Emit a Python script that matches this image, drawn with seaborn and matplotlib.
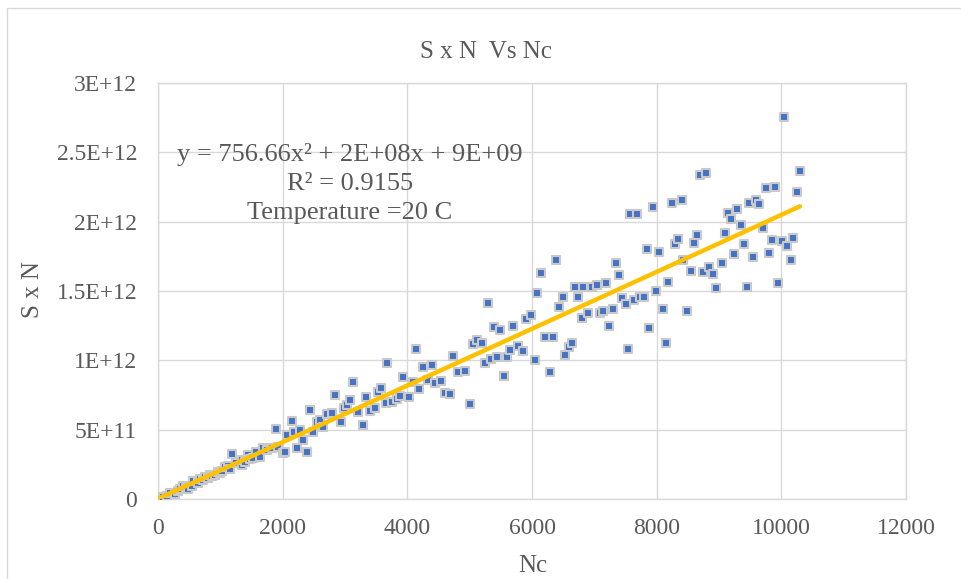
import numpy as np
import matplotlib
matplotlib.use("Agg")
import matplotlib.pyplot as plt
import seaborn as sns

# values (S x N in units of 1E+12)
nc = [32, 80, 144, 192, 273, 321, 353, 401, 449, 481, 545, 561, 642, 674, 722, 754,
      802, 834, 866, 914, 962, 994, 1027, 1075, 1123, 1155, 1187, 1251, 1347, 1347,
      1395, 1444, 1476, 1524, 1572, 1636, 1684, 1748, 1829, 1893, 1925, 2005, 2037,
      2069, 2149, 2181, 2278, 2230, 2326, 2390, 2438, 2486, 2550, 2598, 2647, 2711,
      2791, 2839, 2935, 2983, 3032, 3080, 3128, 3208, 3288, 3336, 3400, 3481, 3529,
      3577, 3657, 3673, 3753, 3834, 3882, 3930, 4026, 4090, 4138, 4186, 4251, 4331,
      4395, 4443, 4539, 4603, 4684, 4732, 4812, 4924, 5004, 5053, 5117, 5197, 5245,
      5293, 5341, 5389, 5438, 5486, 5550, 5598, 5646, 5694, 5774, 5855, 5903, 5983,
      6047, 6079, 6143, 6207, 6288, 6336, 6384, 6432, 6496, 6528, 6592, 6641, 6689,
      6737, 6801, 6817, 6897, 6961, 7042, 7090, 7138, 7186, 7234, 7298, 7346, 7394,
      7443, 7507, 7539, 7571, 7635, 7683, 7731, 7795, 7844, 7876, 7940, 7988, 8036,
      8100, 8148, 8180, 8245, 8293, 8341, 8405, 8421, 8485, 8549, 8597, 8646, 8694,
      8742, 8790, 8838, 8902, 8950, 9047, 9095, 9143, 9191, 9239, 9287, 9351, 9399,
      9448, 9480, 9544, 9592, 9640, 9704, 9752, 9800, 9849, 9897, 9945, 10009, 10041,
      10089, 10153, 10185, 10250, 10298]
sxn_e12 = [0.014, 0.014, 0.022, 0.043, 0.036, 0.058, 0.072, 0.094, 0.079, 0.072, 0.094,
           0.130, 0.115, 0.144, 0.137, 0.159, 0.151, 0.173, 0.166, 0.173, 0.195, 0.187,
           0.202, 0.231, 0.238, 0.216, 0.324, 0.260, 0.245, 0.281, 0.267, 0.317, 0.288,
           0.296, 0.339, 0.303, 0.368, 0.353, 0.368, 0.505, 0.375, 0.332, 0.339, 0.461,
           0.562, 0.483, 0.497, 0.368, 0.425, 0.339, 0.642, 0.483, 0.555, 0.570, 0.519,
           0.613, 0.620, 0.750, 0.555, 0.656, 0.678, 0.714, 0.844, 0.627, 0.534, 0.735,
           0.634, 0.656, 0.771, 0.800, 0.692, 0.981, 0.699, 0.721, 0.743, 0.880, 0.735,
           0.844, 1.082, 0.793, 0.952, 0.858, 0.966, 0.836, 0.851, 0.764, 0.757, 1.031,
           0.916, 0.923, 0.685, 1.118, 1.146, 1.125, 0.981, 1.413, 1.009, 1.240, 1.024,
           1.218, 0.887, 1.024, 1.074, 1.247, 1.103, 1.067, 1.298, 1.327, 1.002, 1.485,
           1.629, 1.168, 0.916, 1.168, 1.723, 1.384, 1.456, 1.038, 1.096, 1.125, 1.529,
           1.456, 1.305, 1.529, 1.341, 1.529, 1.543, 1.341, 1.355, 1.557, 1.247, 1.370,
           1.702, 1.615, 1.449, 1.406, 1.082, 2.055, 1.435, 2.055, 1.456, 1.456, 1.803,
           1.233, 2.105, 1.500, 1.781, 1.370, 1.125, 1.565, 2.134, 1.839, 1.875, 2.156,
           1.723, 1.355, 1.644, 1.846, 1.903, 2.336, 1.637, 2.350, 1.673, 1.622, 1.521,
           1.702, 1.918, 2.062, 2.019, 1.766, 2.091, 1.976, 1.839, 1.529, 2.134, 1.745,
           2.156, 2.127, 1.954, 2.242, 1.774, 1.867, 2.250, 1.557, 1.860, 2.754, 1.824,
           1.723, 1.882, 2.213, 2.365]

x_ticks = [0, 2000, 4000, 6000, 8000, 10000, 12000]
y_ticks_e12 = [0, 0.5, 1.0, 1.5, 2.0, 2.5, 3.0]
y_tick_labels = ["0", "5E+11", "1E+12", "1.5E+12", "2E+12", "2.5E+12", "3E+12"]

trend_text = ["y = 756.66x\u00b2 + 2E+08x + 9E+09", "R\u00b2 = 0.9155", "Temperature =20 C"]

sns.set_style("white")
plt.rcParams['font.family'] = ['Liberation Serif', 'DejaVu Serif']
grey = '#595959'

x = np.array(nc, dtype=float)
y = np.array(sxn_e12) * 1e12

fig = plt.figure(figsize=(9.62, 5.79), dpi=100)
ax = fig.add_axes([158 / 962, 1 - 499 / 579, 748 / 962, 416 / 579])

sns.regplot(x=x, y=y, order=2, ci=None, scatter=False, truncate=True,
            line_kws=dict(color='#FFC000', lw=3.2, solid_capstyle='round', zorder=4), ax=ax)
sns.scatterplot(x=x, y=y, marker='s', s=38, color='#4472C4', edgecolor='#C9C9C9',
                linewidth=1.5, ax=ax, zorder=3)

ax.set_xlim(0, 12000)
ax.set_ylim(0, 3e12)
ax.set_xticks(x_ticks)
ax.set_xticklabels([str(t) for t in x_ticks])
ax.set_yticks([v * 1e12 for v in y_ticks_e12])
ax.set_yticklabels(y_tick_labels)
ax.tick_params(length=0, labelsize=17, colors=grey)
ax.tick_params(axis='x', pad=14)
ax.tick_params(axis='y', pad=15)
ax.set_xlabel("")
ax.set_ylabel("")
ax.grid(True, color='#D9D9D9', lw=1.0)
ax.set_axisbelow(True)
for sp in ax.spines.values():
    sp.set_color('#D9D9D9')
    sp.set_linewidth(1.0)

fig.text(486 / 962, 1 - 52 / 579, "S x N  Vs Nc", ha='center', va='center', fontsize=18, color=grey)
fig.text(533 / 962, 1 - 566 / 579, "Nc", ha='center', va='center', fontsize=18, color=grey)
fig.text(33 / 962, 1 - 290 / 579, "S x N", ha='center', va='center', rotation=90, fontsize=18, color=grey)

for i, line in enumerate(trend_text):
    fig.text(350 / 962, 1 - (155 + 29 * i) / 579, line, ha='center', va='center',
             fontsize=19, color=grey)

# chart border
fig.patches.append(plt.Rectangle((7 / 962, -0.05), 1.1, 1 - 8 / 579 + 0.05, transform=fig.transFigure,
                                 fill=False, edgecolor='#D9D9D9', lw=1.0))

fig.savefig("out.png", dpi=100)
